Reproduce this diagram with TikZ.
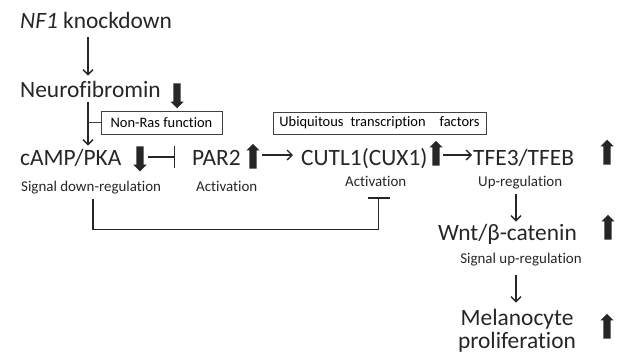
\documentclass[tikz,border=0pt]{standalone}
\usepackage{fontspec}
\setmainfont{Carlito}[Ligatures=CommonOff]
\usetikzlibrary{positioning}
\usetikzlibrary{shapes.arrows}
\usetikzlibrary{arrows.meta,calc,fit}

\tikzset{
  big/.style={font=\fontsize{23.5}{26}\selectfont, inner sep=0pt, text=black!85},
  small/.style={font=\fontsize{15}{17}\selectfont, inner sep=0pt, text=black!85},
  tag/.style={draw=black!75, thin, inner sep=0pt},
  flow/.style={line width=1.4, draw=black!85, -{Straight Barb[length=5,width=10,line width=1.4]}},
  block/.style={line width=1.4, draw=black!85, -{Bar[width=22,line width=1.4]}},
  bararrow/.style={single arrow, fill=black!85, draw=none, inner sep=3.4, minimum height=25,
    single arrow head extend=3, single arrow head indent=0},
  upbar/.style={bararrow, rotate=90},
  downbar/.style={bararrow, rotate=-90},
}

\begin{document}
\begin{tikzpicture}[x=1bp, y=-1bp]
\useasboundingbox (0,0) rectangle (630,353);
\coordinate (col) at (88,0);
\coordinate (col2) at (516,0);
% left column
\node[big, anchor=base west] (nf1) at (20,28) {\textit{NF1} knockdown};
\node[big, anchor=base west] (neuro) at (20,97) {Neurofibromin};
\node[downbar] (neurodown) at (177,94) {};
\node[big, anchor=base west] (camp) at (20,165) {cAMP/PKA};
\node[downbar] (campdown) at (140,157) {};
\node[small, anchor=base west] (campsig) at (21,191) {Signal down-regulation};
% boxes
\node[tag, fit={(101,111) (222,134)}, label=center:{\fontsize{14.5}{16}\selectfont Non-Ras function}] (nonras) {};
\node[tag, fit={(273,112) (486,134)}, label=center:{\fontsize{14.5}{16}\selectfont Ubiquitous\hspace{7bp}transcription\hspace{14bp}factors}] (ubiq) {};
% middle row
\node[big, anchor=base west] (par2) at (192,165) {PAR2};
\node[upbar] (par2up) at (253,158) {};
\node[small, anchor=base west] (par2act) at (196,191) {Activation};
\node[big, anchor=base west] (cutl) at (301,165) {CUTL1(CUX1)};
\node[upbar] (cutlup) at (436,155) {};
\node[small, anchor=base west] (cutlact) at (345,186) {Activation};
\node[big, anchor=base west] (tfe) at (473,165) {TFE3/TFEB};
\node[upbar] (tfeup) at (607,154) {};
\node[small, anchor=base west] (tfereg) at (478,186) {Up-regulation};
% right column
\node[big, anchor=base west] (wnt) at (438,240) {Wnt/β-catenin};
\node[upbar] (wntup) at (608,229) {};
\node[small, anchor=base] (wntsig) at (521,263) {Signal up-regulation};
\node[big, anchor=base] (mel) at (517,325) {Melanocyte};
\node[big, anchor=base] (prol) at (517,348) {proliferation};
\node[upbar] (melup) at (607,328) {};
% connectors
\draw[flow] ($(nf1.south -| col)+(0,9)$) -- ($(neuro.north -| col)+(0,-5)$);
\draw[flow] ($(neuro.south -| col)+(0,5)$) -- ($(camp.north -| col)+(0,-3)$);
\draw[thin, black!75] (col |- nonras.west) -- (nonras.west);
\draw[block] ($(campdown)+(8,0)$) -- ($(par2.west |- campdown)+(-17,0)$);
\draw[flow] ($(par2up)+(9,-3)$) -- ($(cutl.west |- par2up)+(-8,-3)$);
\draw[flow] ($(cutlup)+(7,0)$) -- ($(tfe.west |- cutlup)+(-1,0)$);
\draw[block] ($(campsig.south -| 93,0)+(0,5)$) -- ++(0,31) -| ($(cutlact.south)+(3,11)$);
\draw[flow] ($(tfereg.south -| col2)+(0,5)$) -- ($(wnt.north -| col2)+(0,-2)$);
\draw[flow] ($(wntsig.south -| col2)+(0,9)$) -- ($(mel.north -| col2)+(0,-6)$);
\end{tikzpicture}
\end{document}
